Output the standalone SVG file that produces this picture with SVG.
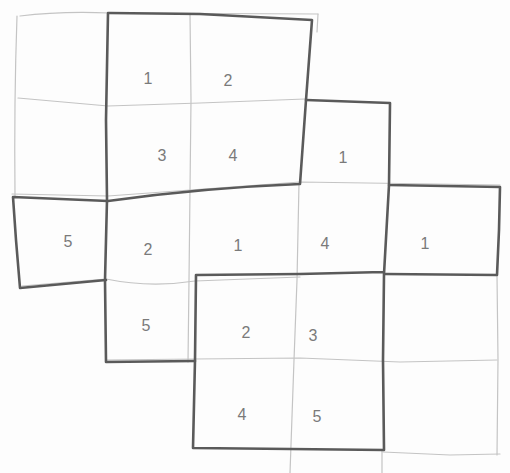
<svg xmlns="http://www.w3.org/2000/svg" width="510" height="473" viewBox="0 0 510 473">
<style>
.thin{fill:none;stroke:#c4c4c4;stroke-width:1.2;stroke-linecap:round;stroke-linejoin:round}
.thick{fill:none;stroke:#5a5a5a;stroke-width:2.6;stroke-linecap:round;stroke-linejoin:round}
text{font-family:"Liberation Sans","DejaVu Sans",sans-serif;font-size:16px;fill:#7a7a7a;text-anchor:middle}
</style>
<rect width="510" height="473" fill="#fdfdfd"/>
<g id="grid-thin">
<path class="thin" d="M20,16 Q60,11 110,13 L318,14"/>
<path class="thin" d="M18,98 L108,106 L200,103 L305,99"/>
<path class="thin" d="M12,194 L108,196 L300,182 L500,185"/>
<path class="thin" d="M22,286 L106,279 Q150,288 195,281 L300,277"/>
<path class="thin" d="M106,360 L195,359 L300,358 L400,362 L497,360"/>
<path class="thin" d="M383,452 L450,455 L500,454"/>
<path class="thin" d="M17,16 Q14,100 15,197"/>
<path class="thin" d="M190,14 L191,100 L190,190 L189,280 L188,362"/>
<path class="thin" d="M318,14 L317,32"/>
<path class="thin" d="M299,183 L297,280 L294,360 L290,473"/>
<path class="thin" d="M382,450 L382,473"/>
<path class="thin" d="M497,275 L498,360 L497,455"/>
</g>
<g id="outline-thick">
<path class="thick" d="M109,13 L200,14 L312,20 L306,100 L300,184 Q200,188 108,201 L13,197 L16,240 L20,288 L106,280"/>
<path class="thick" d="M108,13 L106,120 L107,200 L105,280 L106,362 L195,361"/>
<path class="thick" d="M306,100 L390,103 L389,185 L500,187 L499,230 L497,275 L385,274"/>
<path class="thick" d="M389,185 L384,274 L383,360 L384,450 L290,449 L193,448 L195,360 L196,275 L300,274 L383,272"/>
</g>
<g id="labels">
<text x="148" y="84">1</text>
<text x="228" y="86">2</text>
<text x="162" y="161">3</text>
<text x="233" y="161">4</text>
<text x="343" y="163">1</text>
<text x="68" y="247">5</text>
<text x="148" y="255">2</text>
<text x="238" y="251">1</text>
<text x="325" y="249">4</text>
<text x="425" y="249">1</text>
<text x="146" y="331">5</text>
<text x="246" y="338">2</text>
<text x="313" y="341">3</text>
<text x="242" y="420">4</text>
<text x="317" y="422">5</text>
</g>
</svg>
